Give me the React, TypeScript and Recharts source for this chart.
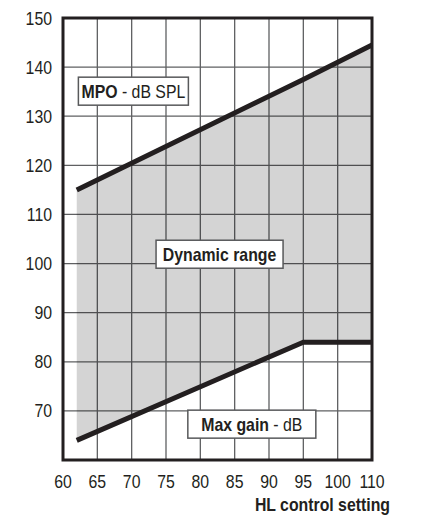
import React from "react";
import { ComposedChart, Area, Line, XAxis, YAxis, CartesianGrid, ReferenceArea, ReferenceDot } from "recharts";

// HL control setting where the segments start/bend/end
const hlControl = [62, 95, 110];
const mpoLevel = [115, 137.5, 144.5];
const maxGain = [64, 84, 84];

const xTickLabels = ["60", "65", "70", "75", "80", "85", "90", "95", "100", "110"];
const yTicks = [60, 70, 80, 90, 100, 110, 120, 130, 140, 150];

const FONT = "'Liberation Sans', Arial, sans-serif";
const INK = "#231f20";
const SQUEEZE = 0.88; // fake a condensed face

// the axis is evenly spaced per tick, so 100 -> 110 takes one step like the 5-unit steps
const hlToPos = (hl: number) => (hl <= 100 ? (hl - 60) / 5 : 8 + (hl - 100) / 10);

const data = hlControl.map((hl, i) => ({
  pos: hlToPos(hl),
  mpo: mpoLevel[i],
  gain: maxGain[i],
  range: [maxGain[i], mpoLevel[i]],
}));

const NText = ({ x, y, anchor = "middle", bold, children }: any) => (
  <text
    transform={`translate(${x} ${y}) scale(${SQUEEZE} 1)`}
    textAnchor={anchor}
    fontSize={18}
    fontWeight={bold ? "bold" : "normal"}
    fontFamily={FONT}
    fill={INK}
  >
    {children}
  </text>
);

const XTick = (p: any) => <NText x={p.x} y={p.y + 13}>{xTickLabels[p.payload.value]}</NText>;

const YTick = (p: any) =>
  p.payload.value === 60 ? null : (
    <NText x={p.x} y={p.y + 6.5} anchor="end">
      {p.payload.value}
    </NText>
  );

const LabelBox = ({ cx, cy, w, children }: { cx?: number; cy?: number; w: number; children: React.ReactNode }) => {
  if (cx == null || cy == null) return null;
  const h = 28;
  return (
    <g>
      <rect x={cx - w / 2} y={cy - h / 2} width={w} height={h} fill="#fff" stroke="#58595b" strokeWidth={1.5} />
      <NText x={cx} y={cy + 7}>{children}</NText>
    </g>
  );
};

const XTitle = (props: any) => {
  const vb = props.viewBox || {};
  return (
    <NText x={vb.x + vb.width + 18} y={vb.y + 51} anchor="end" bold>
      HL control setting
    </NText>
  );
};

export default function App() {
  return (
    <ComposedChart width={413} height={507} data={data} margin={{ top: 10, right: 49, left: 10, bottom: 0 }}>
      <CartesianGrid stroke="#5f6062" strokeWidth={1.3} />
      <XAxis
        type="number"
        dataKey="pos"
        domain={[0, 9]}
        ticks={[0, 1, 2, 3, 4, 5, 6, 7, 8, 9]}
        height={55}
        axisLine={false}
        tickLine={false}
        tickSize={0}
        tickMargin={15}
        tick={<XTick />}
        interval={0}
        label={<XTitle />}
      />
      <YAxis
        type="number"
        domain={[60, 150]}
        ticks={yTicks}
        width={45}
        axisLine={false}
        tickLine={false}
        tickSize={0}
        tickMargin={11}
        tick={<YTick />}
        interval={0}
      />
      <Area type="linear" dataKey="range" fill="#000" fillOpacity={0.17} stroke="none" isAnimationActive={false} />
      <Line type="linear" dataKey="mpo" stroke={INK} strokeWidth={5} dot={false} isAnimationActive={false} />
      <Line type="linear" dataKey="gain" stroke={INK} strokeWidth={5} dot={false} isAnimationActive={false} />
      <ReferenceArea x1={0} x2={9} y1={60} y2={150} fill="none" stroke={INK} strokeWidth={3} ifOverflow="visible" />
      <ReferenceDot
        x={2.05}
        y={135.1}
        r={0}
        shape={(p: any) => (
          <LabelBox cx={p.cx} cy={p.cy} w={110}>
            <tspan fontWeight="bold">MPO</tspan> - dB SPL
          </LabelBox>
        )}
      />
      <ReferenceDot
        x={4.56}
        y={101.9}
        r={0}
        shape={(p: any) => (
          <LabelBox cx={p.cx} cy={p.cy} w={127}>
            <tspan fontWeight="bold">Dynamic range</tspan>
          </LabelBox>
        )}
      />
      <ReferenceDot
        x={5.5}
        y={67.3}
        r={0}
        shape={(p: any) => (
          <LabelBox cx={p.cx} cy={p.cy} w={128}>
            <tspan fontWeight="bold">Max gain</tspan> - dB
          </LabelBox>
        )}
      />
    </ComposedChart>
  );
}
